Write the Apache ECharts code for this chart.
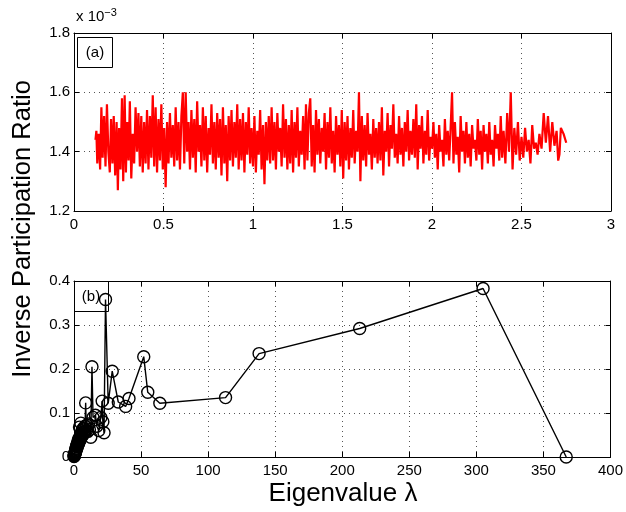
<!DOCTYPE html>
<html><head><meta charset="utf-8">
<script src="https://cdn.jsdelivr.net/npm/echarts@6/dist/echarts.min.js"></script>
<style>html,body{margin:0;padding:0;background:#fff}#c{width:626px;height:512px}</style>
</head><body><div id="c"></div>
<script>
// Panel (a): eigenvalue vs IPR (units of 1e-3)
var lamA = [0.12,0.125,0.13,0.138,0.146,0.153,0.16,0.168,0.176,0.184,0.192,
0.20,0.207,0.215,0.222,0.23,0.238,0.245,0.252,0.26,0.268,0.275,0.283,0.29,0.297,
0.305,0.312,0.32,0.328,0.336,0.344,0.352,0.36,0.368,0.376,0.384,0.392,
0.40,0.408,0.416,0.424,0.432,0.44,0.448,0.456,0.464,0.472,0.48,0.488,0.496,
0.504,0.512,0.52,0.528,0.536,0.544,0.552,0.56,0.568,0.576,0.584,0.592,
0.60,0.608,0.616,0.624,0.632,0.64,0.648,0.656,0.664,0.672,0.68,0.688,0.696,
0.704,0.712,0.72,0.728,0.736,0.744,0.752,0.76,0.768,0.776,0.784,0.792,
0.80,0.808,0.816,0.824,0.832,0.84,0.848,0.856,0.864,0.872,0.88,0.888,0.896,
0.904,0.912,0.92,0.928,0.936,0.944,0.952,0.96,0.968,0.976,0.984,0.992,
1.00,1.008,1.016,1.024,1.032,1.04,1.048,1.056,1.064,1.072,1.08,1.088,1.096,
1.104,1.112,1.12,1.128,1.136,1.144,1.152,1.16,1.168,1.176,1.184,1.192,
1.20,1.208,1.216,1.224,1.232,1.24,1.248,1.256,1.264,1.272,1.28,1.288,1.296,
1.304,1.312,1.32,1.328,1.336,1.344,1.352,1.36,1.368,1.376,1.384,1.392,
1.40,1.408,1.416,1.424,1.432,1.44,1.448,1.456,1.464,1.472,1.48,1.488,1.496,
1.504,1.512,1.52,1.528,1.536,1.544,1.552,1.56,1.568,1.576,1.584,1.592,
1.60,1.608,1.616,1.624,1.632,1.64,1.648,1.656,1.664,1.672,1.68,1.688,1.696,
1.704,1.712,1.72,1.728,1.736,1.744,1.752,1.76,1.768,1.776,1.784,1.792,
1.80,1.808,1.816,1.824,1.832,1.84,1.848,1.856,1.864,1.872,1.88,1.888,1.896,
1.904,1.912,1.92,1.928,1.936,1.944,1.952,1.96,1.968,1.976,1.984,1.992,
2.00,2.008,2.016,2.024,2.032,2.04,2.048,2.056,2.064,2.072,2.08,2.088,2.096,
2.104,2.112,2.12,2.128,2.136,2.144,2.152,2.16,2.168,2.176,2.184,2.192,
2.20,2.208,2.216,2.224,2.232,2.24,2.248,2.256,2.264,2.272,2.28,2.288,2.296,
2.304,2.312,2.32,2.328,2.336,2.344,2.352,2.36,2.368,2.376,2.384,2.392,
2.40,2.41,2.42,2.43,2.44,2.45,2.46,2.47,2.48,2.49,
2.50,2.51,2.52,2.53,2.54,2.55,2.56,2.57,2.58,2.59,
2.60,2.612,2.624,2.636,2.648,2.66,2.672,2.684,2.696,2.705,2.712,2.72,2.735,2.75];
var iprA = [1.44,1.47,1.36,1.46,1.34,1.55,1.38,1.52,1.35,1.56,1.40,
1.33,1.51,1.36,1.52,1.32,1.50,1.27,1.48,1.34,1.58,1.30,1.59,1.33,1.50,
1.37,1.57,1.31,1.46,1.36,1.55,1.40,1.53,1.35,1.52,1.33,1.50,
1.36,1.54,1.34,1.52,1.38,1.59,1.35,1.55,1.33,1.51,1.37,1.56,1.34,
1.48,1.28,1.50,1.36,1.53,1.38,1.49,1.35,1.55,1.37,1.50,1.34,
1.52,1.60,1.36,1.60,1.40,1.50,1.34,1.54,1.38,1.51,1.33,1.57,1.40,
1.49,1.35,1.55,1.37,1.52,1.33,1.48,1.39,1.56,1.36,1.50,1.34,
1.53,1.38,1.51,1.32,1.55,1.36,1.49,1.30,1.52,1.37,1.54,1.35,1.50,
1.38,1.56,1.34,1.51,1.37,1.53,1.33,1.50,1.39,1.55,1.36,1.48,
1.35,1.52,1.33,1.47,1.39,1.54,1.34,1.49,1.29,1.50,1.37,1.52,1.36,
1.55,1.37,1.50,1.34,1.53,1.40,1.48,1.35,1.56,1.38,1.51,1.34,
1.49,1.36,1.54,1.33,1.50,1.38,1.55,1.35,1.47,1.39,1.52,1.34,1.56,
1.37,1.53,1.58,1.35,1.49,1.33,1.54,1.39,1.51,1.36,1.48,1.40,
1.53,1.34,1.50,1.38,1.55,1.36,1.47,1.33,1.52,1.39,1.49,1.35,1.54,
1.31,1.50,1.37,1.52,1.34,1.48,1.38,1.54,1.36,1.47,1.40,1.60,
1.30,1.52,1.37,1.49,1.35,1.53,1.39,1.46,1.34,1.51,1.38,1.48,1.36,
1.50,1.37,1.55,1.32,1.47,1.40,1.53,1.35,1.49,1.41,1.56,1.38,
1.46,1.36,1.52,1.39,1.48,1.35,1.50,1.40,1.54,1.37,1.47,1.39,1.51,
1.38,1.56,1.34,1.49,1.41,1.52,1.36,1.47,1.39,1.54,1.37,1.45,
1.41,1.50,1.38,1.46,1.34,1.49,1.40,1.44,1.35,1.51,1.39,1.47,1.37,
1.48,1.60,1.36,1.50,1.39,1.45,1.33,1.52,1.40,1.47,1.36,1.50,
1.38,1.46,1.35,1.49,1.41,1.44,1.37,1.51,1.39,1.47,1.34,1.49,1.40,
1.46,1.36,1.50,1.39,1.44,1.35,1.49,1.41,1.46,1.37,1.52,1.38,
1.47,1.36,1.53,1.40,1.60,1.34,1.48,1.39,1.50,1.37,
1.45,1.38,1.48,1.40,1.44,1.36,1.49,1.41,1.43,1.39,
1.46,1.41,1.53,1.43,1.52,1.40,1.50,1.42,1.47,1.37,1.39,1.48,1.46,1.43];

// Panel (b)
var lamB = [0.05,0.1,0.2,0.3,0.4,0.5,0.6,0.7,0.8,0.9,1.0,1.1,1.2,1.3,1.45,1.6,1.75,1.9,2.05,2.2,2.35,2.5,2.7,2.9,3.1,3.3,3.5,3.7,3.9,4.1,4.3,4.5,4.7,4.9,5.1,5.3,5.5,5.8,6.1,6.4,6.7,7.0,7.4,7.8,8.2,8.7,9.2,9.7,10.2,10.8,11.5,12.5,13.4,14.2,16,17,18.5,20,21,21.5,22.4,23.5,25.5,28.5,33,38.5,41,52,55,64,113,138,213,305,367];
var iprB = [0.001,0.003,0.002,0.005,0.004,0.007,0.006,0.009,0.008,0.012,0.010,0.014,0.012,0.017,0.015,0.020,0.018,0.024,0.020,0.027,0.023,0.030,0.026,0.034,0.029,0.038,0.032,0.042,0.035,0.068,0.038,0.046,0.040,0.050,0.077,0.044,0.055,0.047,0.060,0.050,0.064,0.052,0.066,0.056,0.070,0.123,0.060,0.072,0.058,0.075,0.062,0.045,0.205,0.090,0.095,0.070,0.060,0.090,0.127,0.080,0.055,0.358,0.122,0.195,0.125,0.115,0.133,0.228,0.147,0.122,0.135,0.235,0.292,0.383,0.0];

var dataA = lamA.map(function(v,i){return [v, iprA[i]];});
var dataB = lamB.map(function(v,i){return [v, iprB[i]];});

var FONT = '"Liberation Sans", Arial, sans-serif';
var chart = echarts.init(document.getElementById('c'));
function xAx(gi, min, max, interval, pos, labels){
  return {type:'value', gridIndex:gi, min:min, max:max, interval:interval, position:pos,
    axisLine:{show:true, onZero:false, lineStyle:{color:'#000', width:1}},
    axisTick:{show:true, inside:true, length:5, lineStyle:{color:'#000'}},
    axisLabel:{show:labels, color:'#000', fontSize:15, fontFamily:FONT, margin:6},
    splitLine:{show:labels, lineStyle:{color:'#555', type:[1,4], width:1}}};
}
function yAx(gi, min, max, interval, pos, labels, fmt){
  return {type:'value', gridIndex:gi, min:min, max:max, interval:interval, position:pos,
    axisLine:{show:true, onZero:false, lineStyle:{color:'#000', width:1}},
    axisTick:{show:true, inside:true, length:5, lineStyle:{color:'#000'}},
    axisLabel:{show:labels, color:'#000', fontSize:15, fontFamily:FONT, margin:4, formatter:fmt},
    splitLine:{show:labels, lineStyle:{color:'#555', type:[1,4], width:1}}};
}
var option = {
  backgroundColor:'#fff',
  animation:false,
  grid:[{left:74, top:33, width:537, height:178},
        {left:74, top:281, width:537, height:176}],
  xAxis:[xAx(0,0,3,0.5,'bottom',true), xAx(0,0,3,0.5,'top',false),
         xAx(1,0,400,50,'bottom',true), xAx(1,0,400,50,'top',false)],
  yAxis:[yAx(0,1.2,1.8,0.2,'left',true,function(v){return v.toFixed(1);}), yAx(0,1.2,1.8,0.2,'right',false),
         yAx(1,0,0.4,0.1,'left',true,function(v){return v===0?'0':v.toFixed(1);}), yAx(1,0,0.4,0.1,'right',false)],
  series:[
    {type:'line', xAxisIndex:0, yAxisIndex:0, data:dataA, showSymbol:false, symbol:'none',
     lineStyle:{color:'#ff0000', width:2.2}, clip:true},
    {type:'line', xAxisIndex:2, yAxisIndex:2, data:dataB, symbol:'circle', symbolSize:12,
     itemStyle:{color:'rgba(0,0,0,0)', borderColor:'#000', borderWidth:1.4},
     lineStyle:{color:'#000', width:1.4}, clip:false}
  ],
  graphic:[
    {type:'text', left:76, top:7, style:{rich:{a:{fontSize:15,fontFamily:FONT,fill:'#000'}, s:{fontSize:11,fontFamily:FONT,fill:'#000',verticalAlign:'top',padding:[0,0,8,0]}}, text:'{a|x 10}{s|\u22123}'}},
    {type:'rect', shape:{x:77.5, y:37.5, width:35, height:30}, style:{fill:'#fff', stroke:'#000', lineWidth:1}},
    {type:'text', x:95, y:52.5, style:{text:'(a)', fontSize:15, fontFamily:FONT, fill:'#000', align:'center', verticalAlign:'middle'}},
    {type:'rect', shape:{x:74.5, y:281.5, width:34, height:30}, style:{fill:'rgba(0,0,0,0)', stroke:'#000', lineWidth:1}},
    {type:'text', x:91, y:296.5, style:{text:'(b)', fontSize:15, fontFamily:FONT, fill:'#000', align:'center', verticalAlign:'middle'}},
    {type:'text', x:23, y:229, rotation:Math.PI/2, style:{text:'Inverse Participation Ratio', fontSize:25.5, fontFamily:FONT, fill:'#000', align:'center', verticalAlign:'middle'}},
    {type:'text', x:343, y:494, style:{text:'Eigenvalue \u03bb', fontSize:26, fontFamily:FONT, fill:'#000', align:'center', verticalAlign:'middle'}}
  ]
};
chart.setOption(option);
</script></body></html>
